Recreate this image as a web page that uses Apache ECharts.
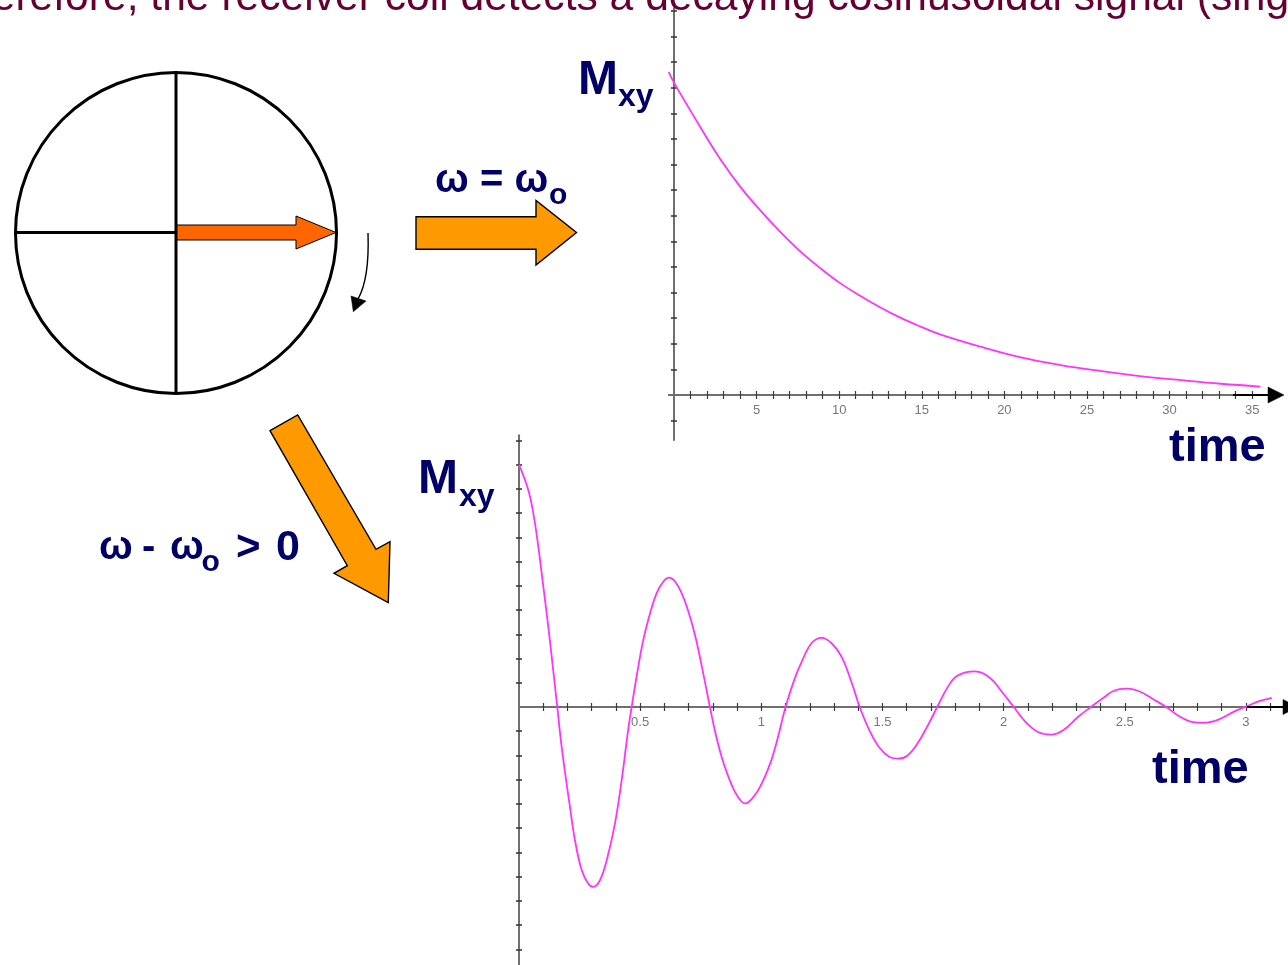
<!DOCTYPE html>
<html>
<head>
<meta charset="utf-8">
<script src="https://cdn.jsdelivr.net/npm/echarts@6/dist/echarts.min.js"></script>
<style>
  html, body { margin:0; padding:0; background:#fff; }
  #chart { width:1288px; height:965px; }
</style>
</head>
<body>
<div id="chart"></div>
<script>
/* Mxy after excitation: on resonance (pure decay) and off resonance (decaying cosine). */

// on resonance, w = w0 : Mxy vs time
var DECAY_T = [-0.32, 0, 1.61, 2.82, 4.03, 5.24, 6.45, 7.66, 8.87, 10.08, 11.29, 12.5, 13.7, 14.9, 16.1, 18.6, 21.0, 23.4, 25.8, 28.2, 30.7, 33.1, 35.5];
var DECAY_M = [12.62, 12.2, 10.45, 9.2, 8.12, 7.2, 6.36, 5.6, 4.95, 4.36, 3.87, 3.42, 3.02, 2.68, 2.37, 1.88, 1.47, 1.17, 0.94, 0.74, 0.58, 0.44, 0.33];

// off resonance, w - w0 > 0 : Mxy vs time
var FID_T = [0, 0.038, 0.059, 0.08, 0.10, 0.121, 0.138, 0.158, 0.173, 0.19, 0.21, 0.231, 0.259, 0.286, 0.307, 0.334, 0.362, 0.396, 0.424, 0.451, 0.465,
  0.486, 0.513, 0.541, 0.568, 0.596, 0.619, 0.644, 0.671, 0.699, 0.726, 0.754, 0.788, 0.809, 0.836, 0.864, 0.891, 0.919, 0.935, 0.96, 0.988,
  1.015, 1.043, 1.07, 1.10, 1.137, 1.166, 1.207, 1.249, 1.290, 1.332, 1.373, 1.406, 1.446, 1.487, 1.529, 1.564, 1.601, 1.643, 1.684, 1.726,
  1.768, 1.809, 1.882, 1.944, 1.996, 2.042, 2.09, 2.142, 2.194, 2.246, 2.308, 2.360, 2.412, 2.453, 2.505, 2.557, 2.619, 2.671,
  2.723, 2.775, 2.827, 2.889, 2.951, 2.997, 3.055, 3.107];
var FID_M = [1.0, 0.897, 0.8, 0.66, 0.5, 0.33, 0.18, 0, -0.14, -0.27, -0.41, -0.55, -0.674, -0.729, -0.742, -0.715, -0.632, -0.481, -0.3, -0.09, 0,
  0.13, 0.277, 0.387, 0.47, 0.518, 0.534, 0.518, 0.47, 0.394, 0.298, 0.17, 0, -0.1, -0.205, -0.288, -0.35, -0.391, -0.398, -0.38, -0.342,
  -0.287, -0.215, -0.12, 0, 0.115, 0.185, 0.263, 0.285, 0.263, 0.206, 0.10, 0, -0.096, -0.167, -0.206, -0.213, -0.202, -0.153, -0.082, 0,
  0.08, 0.129, 0.147, 0.12, 0.059, 0, -0.061, -0.103, -0.114, -0.096, -0.04, 0, 0.038, 0.066, 0.076, 0.066, 0.031, 0,
  -0.037, -0.061, -0.065, -0.051, -0.019, 0, 0.024, 0.038];

// axis ticks and labels
var TOP_X_TICKS = [1,2,3,4,5,6,7,8,9,10,11,12,13,14,15,16,17,18,19,20,21,22,23,24,25,26,27,28,29,30,31,32,33,34,35];
var TOP_X_LABELS = [5, 10, 15, 20, 25, 30, 35];
var TOP_Y_TICKS = [-1,1,2,3,4,5,6,7,8,9,10,11,12,13,14,15];
var BOT_X_TICKS = [0.1,0.2,0.3,0.4,0.5,0.6,0.7,0.8,0.9,1,1.1,1.2,1.3,1.4,1.5,1.6,1.7,1.8,1.9,2,2.1,2.2,2.3,2.4,2.5,2.6,2.7,2.8,2.9,3,3.1];
var BOT_X_LABELS = [0.5, 1, 1.5, 2, 2.5, 3];
var BOT_Y_TICKS = [-1,-0.9,-0.8,-0.7,-0.6,-0.5,-0.4,-0.3,-0.2,-0.1,0.1,0.2,0.3,0.4,0.5,0.6,0.7,0.8,0.9,1,1.1];

var NAVY = '#000066', MAGENTA = '#ff33ff', AXIS = '#6f6f6f', TICK = '#3a3a3a';
var FONT = 'Liberation Sans';

function pairs(xs, ys){ return xs.map(function(x, i){ return [x, ys[i]]; }); }

// one axis drawn twice so its ticks cross the line (outward on both sides)
function xAxes(grid, min, max, ticks){
  var base = { gridIndex:grid, type:'value', min:min, max:max, splitLine:{show:false}, axisLabel:{ show:false },
    axisLine:{ onZero:true, lineStyle:{ color:AXIS, width:2 } },
    axisTick:{ customValues:ticks, length:4, lineStyle:{ color:TICK, width:1.2 } } };
  return [ Object.assign({}, base, { position:'bottom' }), Object.assign({}, base, { position:'top' }) ];
}
// labels sit on a helper grid whose bottom edge is the zero line
function labelAxis(grid, min, max, labels){
  return { gridIndex:grid, type:'value', min:min, max:max, position:'bottom', splitLine:{show:false},
    axisLine:{ show:false }, axisTick:{ show:false },
    axisLabel:{ customValues:labels, margin:9, fontFamily:FONT, fontSize:13, color:'#777' } };
}
function yAxes(grid, min, max, ticks){
  var base = { gridIndex:grid, type:'value', min:min, max:max, splitLine:{show:false},
    axisLine:{ onZero:true, lineStyle:{ color:AXIS, width:2 } }, axisLabel:{ show:false },
    axisTick:{ customValues:ticks, length:3, lineStyle:{ color:TICK, width:1.6 } } };
  return [ Object.assign({}, base, { position:'left' }), Object.assign({}, base, { position:'right' }) ];
}

function txt(x, y, s, size, color, bold){
  return { type:'text', x:x, y:y, z:100, style:{ text:s, fill:color, fontFamily:FONT, fontSize:size,
    fontWeight:bold ? 'bold' : 'normal', verticalAlign:'middle', align:'left' } };
}
function poly(points, fill, lw){
  return { type:'polygon', z:50, shape:{ points:points }, style:{ fill:fill, stroke:'#000', lineWidth:lw } };
}

var chart = echarts.init(document.getElementById('chart'), null, { renderer:'canvas' });

chart.setOption({
  backgroundColor:'#fff',
  animation:false,
  grid:[
    { left:669, top:8.4, width:596.4, height:431.4, outerBoundsMode:'none' },
    { left:519, top:435.6, width:756, height:530.7, outerBoundsMode:'none' },
    { left:669, top:300, width:596.4, height:95, outerBoundsMode:'none' },
    { left:519, top:600, width:756, height:107, outerBoundsMode:'none' }
  ],
  xAxis: xAxes(0, -0.3, 35.8, TOP_X_TICKS).concat(xAxes(1, 0, 3.12, BOT_X_TICKS), [
    labelAxis(2, -0.3, 35.8, TOP_X_LABELS), labelAxis(3, 0, 3.12, BOT_X_LABELS)
  ]),
  yAxis: yAxes(0, -1.75, 15.1, TOP_Y_TICKS).concat(yAxes(1, -1.07, 1.12, BOT_Y_TICKS), [
    { gridIndex:2, type:'value', show:false }, { gridIndex:3, type:'value', show:false }
  ]),
  series:[
    { type:'line', xAxisIndex:0, yAxisIndex:0, data:pairs(DECAY_T, DECAY_M), smooth:0.4, symbol:'none',
      clip:false, lineStyle:{ color:MAGENTA, width:1.8 } },
    { type:'line', xAxisIndex:2, yAxisIndex:2, data:pairs(FID_T, FID_M), smooth:0.4, symbol:'none',
      clip:false, lineStyle:{ color:MAGENTA, width:1.8 } }
  ],
  graphic:[
    // slide sentence cut off at the top edge
    txt(-58, -1.5, 'Therefore, the receiver coil detects a decaying cosinusoidal signal (single frequency)', 42.6, '#660033', false),

    // rotating frame: circle with axes and the magnetisation vector
    { type:'circle', z:40, shape:{ cx:176, cy:233, r:160.5 }, style:{ fill:null, stroke:'#000', lineWidth:3 } },
    { type:'line', z:41, shape:{ x1:176, y1:73, x2:176, y2:393 }, style:{ stroke:'#000', lineWidth:3 } },
    { type:'line', z:41, shape:{ x1:16, y1:232.5, x2:176, y2:232.5 }, style:{ stroke:'#000', lineWidth:3 } },
    poly([[177,225],[296,225],[296,216],[336,232.5],[296,249],[296,240],[177,240]], '#ff6600', 1),
    { type:'bezierCurve', z:41, shape:{ x1:368, y1:233, cpx1:369, cpy1:262, cpx2:366, cpy2:285, x2:358, y2:299 },
      style:{ stroke:'#000', lineWidth:1.4, fill:null } },
    poly([[353.3,311.7],[351,296],[366,301]], '#000', 0.5),

    // block arrows
    poly([[416,216.7],[536,216.7],[536,200.5],[576.5,232.5],[536,265],[536,249.3],[416,249.3]], '#ff9900', 1.4),
    poly([[270,430.7],[297.7,415],[376,549.3],[390,541.7],[388.3,602.7],[334,573.3],[347.3,565.7]], '#ff9900', 1.4),

    // axis arrows
    { type:'line', z:60, shape:{ x1:1233, y1:395, x2:1270, y2:395 }, style:{ stroke:'#000', lineWidth:2 } },
    poly([[1268,387],[1284,395],[1268,403]], '#000', 0.5),
    { type:'line', z:60, shape:{ x1:1247, y1:707, x2:1285, y2:707 }, style:{ stroke:'#000', lineWidth:2 } },
    poly([[1283,699.5],[1298,707],[1283,714.5]], '#000', 0.5),

    // labels
    txt(578, 80.5, 'M', 48, NAVY, true),
    txt(618, 97.1, 'xy', 32, NAVY, true),
    txt(418, 479.9, 'M', 48, NAVY, true),
    txt(459, 496.8, 'xy', 32, NAVY, true),
    txt(435, 181, 'ω = ω', 40, NAVY, true),
    txt(549, 195.5, 'o', 30, NAVY, true),
    txt(99, 548, 'ω', 40, NAVY, true),
    txt(142, 548, '-', 40, NAVY, true),
    txt(170, 548, 'ω', 40, NAVY, true),
    txt(201.5, 562.5, 'o', 30, NAVY, true),
    txt(236, 548, '>', 42, NAVY, true),
    txt(276, 548, '0', 43, NAVY, true),
    txt(1169, 448.5, 'time', 47, NAVY, true),
    txt(1152, 770.2, 'time', 47, NAVY, true)
  ]
});

window.addEventListener('resize', function(){ chart.resize(); });
</script>
</body>
</html>
